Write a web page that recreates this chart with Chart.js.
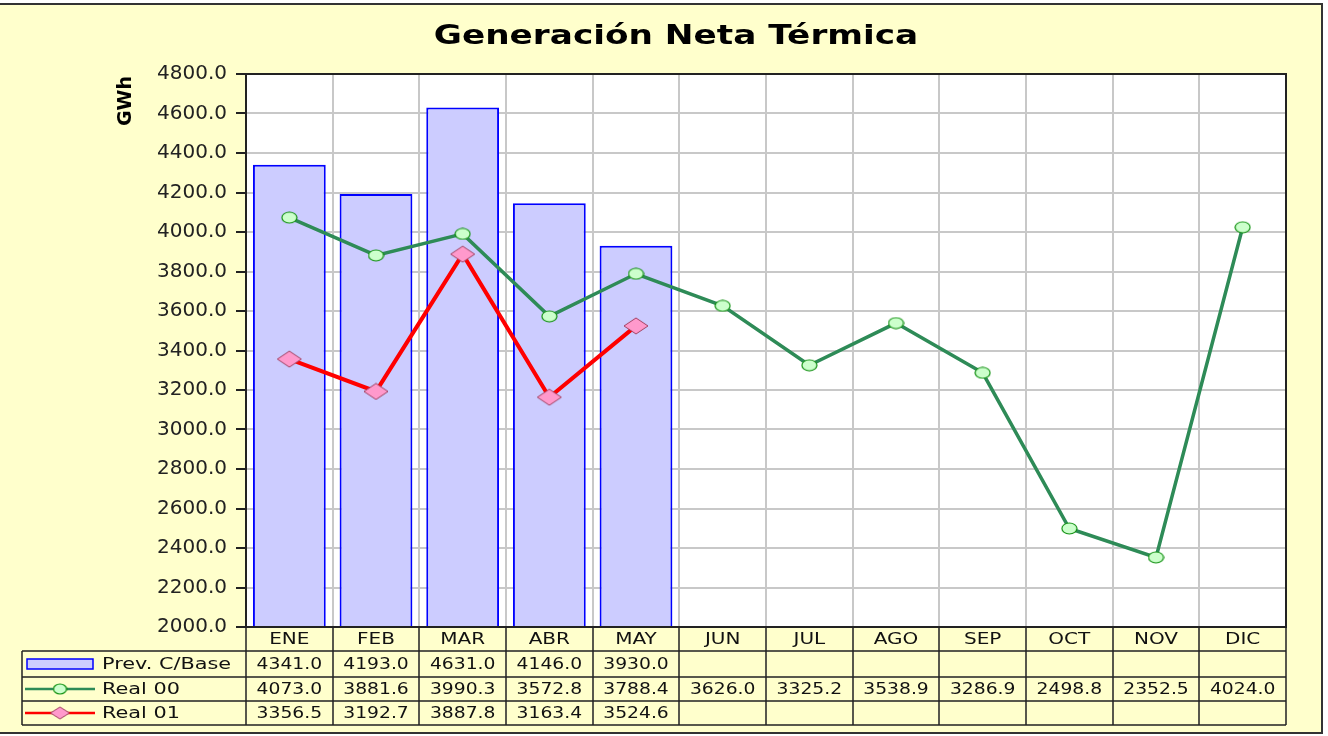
<!DOCTYPE html>
<html>
<head>
<meta charset="utf-8">
<script src="https://cdn.jsdelivr.net/npm/chart.js@4/dist/chart.umd.min.js"></script>
<style>
  body { margin: 0; background: #fff; }
  canvas { display: block; }
</style>
</head>
<body>
<canvas id="myChart" width="1328" height="736"></canvas>
<script>
// data
const months = ['ENE', 'FEB', 'MAR', 'ABR', 'MAY', 'JUN', 'JUL', 'AGO', 'SEP', 'OCT', 'NOV', 'DIC'];
const prevBase = [4341.0, 4193.0, 4631.0, 4146.0, 3930.0, null, null, null, null, null, null, null];
const real00 = [4073.0, 3881.6, 3990.3, 3572.8, 3788.4, 3626.0, 3325.2, 3538.9, 3286.9, 2498.8, 2352.5, 4024.0];
const real01 = [3356.5, 3192.7, 3887.8, 3163.4, 3524.6, null, null, null, null, null, null, null];
const seriesNames = ['Prev. C/Base', 'Real 00', 'Real 01'];
const yMin = 2000, yMax = 4800, yStep = 200;

const FONT = '"DejaVu Sans", sans-serif';

// marker images (flattened like the original)
function ellipseMarker(w, h) {
  const c = document.createElement('canvas');
  c.width = w + 2; c.height = h + 2;
  const g = c.getContext('2d');
  g.beginPath();
  g.ellipse(c.width / 2, c.height / 2, w / 2, h / 2, 0, 0, Math.PI * 2);
  g.fillStyle = '#ccffcc';
  g.fill();
  g.lineWidth = 1.2;
  g.strokeStyle = '#109010';
  g.stroke();
  return c;
}
function diamondMarker(w, h) {
  const c = document.createElement('canvas');
  c.width = w + 2; c.height = h + 2;
  const g = c.getContext('2d');
  const cx = c.width / 2, cy = c.height / 2;
  g.beginPath();
  g.moveTo(cx, cy - h / 2);
  g.lineTo(cx + w / 2, cy);
  g.lineTo(cx, cy + h / 2);
  g.lineTo(cx - w / 2, cy);
  g.closePath();
  g.fillStyle = '#ff99cc';
  g.fill();
  g.lineWidth = 1;
  g.strokeStyle = '#a04060';
  g.stroke();
  return c;
}
const circlePt = ellipseMarker(15, 11);
const diamondPt = diamondMarker(24, 16);
const circleSmall = ellipseMarker(13, 10);
const diamondSmall = diamondMarker(19, 12);

const fmt = v => (v === null || v === undefined) ? '' : v.toFixed(1);

// the original text is a bit wider than our fonts, so stretch it sideways
function wideText(ctx, txt, x, y, sx, align) {
  ctx.save();
  ctx.translate(x, y);
  ctx.scale(sx, 1);
  ctx.textAlign = align;
  ctx.fillText(txt, 0, 0);
  ctx.restore();
}

// frame, title, axis label and data table
const decorations = {
  id: 'decorations',
  beforeDraw(chart) {
    const ctx = chart.ctx;
    const a = chart.chartArea;
    ctx.save();
    ctx.fillStyle = '#ffffff';
    ctx.fillRect(0, 0, chart.width, chart.height);
    ctx.fillStyle = '#ffffcc';
    ctx.fillRect(-2, 4, 1324, 729);
    ctx.strokeStyle = '#333333';
    ctx.lineWidth = 2;
    ctx.strokeRect(-2, 4, 1324, 729);
    ctx.fillStyle = '#ffffff';
    ctx.fillRect(a.left, a.top, a.right - a.left, a.bottom - a.top);
    ctx.restore();
  },
  afterDraw(chart) {
    const ctx = chart.ctx;
    const a = chart.chartArea;
    const x = chart.scales.x;
    ctx.save();

    // plot border
    ctx.strokeStyle = '#222222';
    ctx.lineWidth = 2;
    ctx.strokeRect(a.left, a.top, a.right - a.left, a.bottom - a.top);

    // title
    ctx.fillStyle = '#000000';
    ctx.font = 'bold 27px ' + FONT;
    ctx.textBaseline = 'middle';
    wideText(ctx, 'Generación Neta Térmica', 676, 37, 1.27, 'center');

    // y axis title
    ctx.save();
    ctx.translate(126, 101);
    ctx.rotate(-Math.PI / 2);
    ctx.font = 'bold 19px ' + FONT;
    ctx.textAlign = 'center';
    ctx.fillText('GWh', 0, 0);
    ctx.restore();

    // data table
    const colW = (a.right - a.left) / months.length;
    const rowY = [a.bottom, 651, 677, 701, 725];
    const tableLeft = 22;
    ctx.strokeStyle = '#222222';
    ctx.lineWidth = 1.5;
    ctx.beginPath();
    for (let i = 0; i <= months.length; i++) {
      const bx = Math.round(a.left + i * colW);
      ctx.moveTo(bx, rowY[0]);
      ctx.lineTo(bx, rowY[4]);
    }
    ctx.moveTo(tableLeft, rowY[1]);
    ctx.lineTo(tableLeft, rowY[4]);
    for (let r = 1; r < rowY.length; r++) {
      ctx.moveTo(tableLeft, rowY[r]);
      ctx.lineTo(a.right, rowY[r]);
    }
    ctx.stroke();

    ctx.font = '16px ' + FONT;
    ctx.fillStyle = '#111111';
    months.forEach((m, i) => {
      wideText(ctx, m, x.getPixelForValue(i), (rowY[0] + rowY[1]) / 2 + 1, 1.25, 'center');
    });
    const rows = [prevBase, real00, real01];
    rows.forEach((vals, r) => {
      const cy = (rowY[r + 1] + rowY[r + 2]) / 2 + 1;
      vals.forEach((v, i) => {
        wideText(ctx, fmt(v), x.getPixelForValue(i), cy, 1.17, 'center');
      });
    });

    // legend keys in first column
    const keyY = [664, 689, 713];
    ctx.fillStyle = '#ccccff';
    ctx.fillRect(27, keyY[0] - 5, 66, 10);
    ctx.strokeStyle = '#0000ff';
    ctx.lineWidth = 1.5;
    ctx.strokeRect(27, keyY[0] - 5, 66, 10);
    [['#2e8b57', circleSmall], ['#ff0000', diamondSmall]].forEach(([col, img], k) => {
      const ky = keyY[k + 1];
      ctx.strokeStyle = col;
      ctx.lineWidth = 2.5;
      ctx.beginPath();
      ctx.moveTo(25, ky);
      ctx.lineTo(95, ky);
      ctx.stroke();
      ctx.drawImage(img, 60 - img.width / 2, ky - img.height / 2);
    });
    ctx.fillStyle = '#111111';
    seriesNames.forEach((n, k) => wideText(ctx, n, 102, keyY[k] + 1, 1.3, 'left'));

    ctx.restore();
  }
};

const chart = new Chart(document.getElementById('myChart'), {
  type: 'bar',
  data: {
    labels: months,
    datasets: [
      {
        type: 'line',
        label: seriesNames[2],
        data: real01,
        borderColor: '#ff0000',
        borderWidth: 4,
        pointStyle: diamondPt,
        spanGaps: false,
        order: 1
      },
      {
        type: 'line',
        label: seriesNames[1],
        data: real00,
        borderColor: '#2e8b57',
        borderWidth: 3.5,
        pointStyle: circlePt,
        order: 2
      },
      {
        label: seriesNames[0],
        data: prevBase,
        backgroundColor: '#ccccff',
        borderColor: '#0000ff',
        borderWidth: 2,
        barPercentage: 0.84,
        categoryPercentage: 1.0,
        order: 3
      }
    ]
  },
  options: {
    responsive: false,
    animation: false,
    devicePixelRatio: 1,
    layout: { padding: { left: 0, top: 74, right: 42, bottom: 109 } },
    plugins: {
      legend: { display: false },
      title: { display: false },
      tooltip: { enabled: false }
    },
    scales: {
      x: {
        offset: true,
        ticks: { display: false },
        grid: { offset: true, color: '#c8c8c8', lineWidth: 2, drawTicks: false },
        border: { display: false },
        afterFit: s => { s.height = 0; }
      },
      y: {
        min: yMin,
        max: yMax,
        ticks: {
          stepSize: yStep,
          padding: 9,
          color: '#222222',
          font: { family: FONT, size: 20 },
          callback: v => v.toFixed(1)
        },
        grid: { color: '#c8c8c8', lineWidth: 2, tickColor: '#222222', tickLength: 10 },
        border: { color: '#222222', width: 2 },
        afterFit: s => { s.width = 246; }
      }
    }
  },
  plugins: [decorations]
});
</script>
</body>
</html>
